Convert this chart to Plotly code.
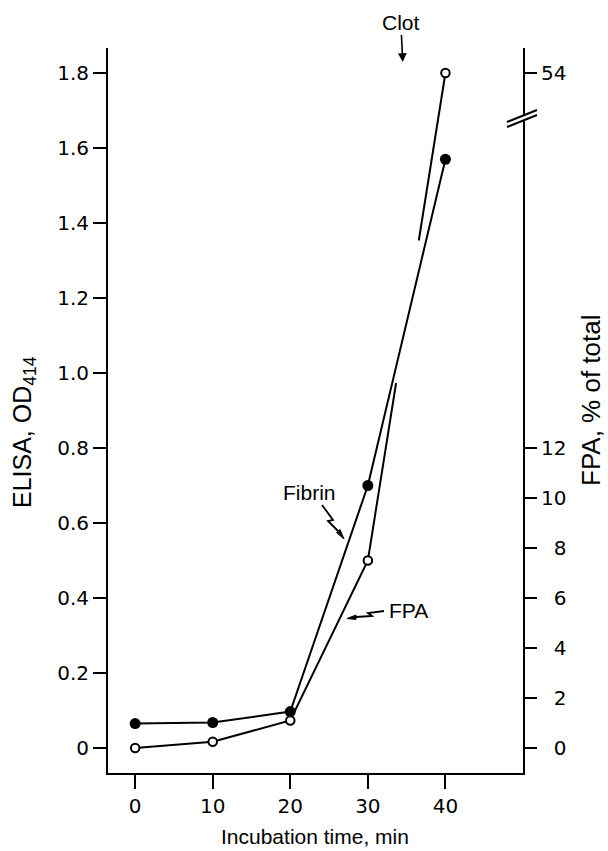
import numpy as np
import plotly.graph_objects as go

# ---------------- data ----------------
time_min = [0, 10, 20, 30, 40]
fibrin_od = [0.065, 0.068, 0.097, 0.70, 1.57]
fpa_pct = [0.0, 0.25, 1.1, 7.5, 54.0]

time_ticks = [0, 10, 20, 30, 40]
od_ticks = [0, 0.2, 0.4, 0.6, 0.8, 1.0, 1.2, 1.4, 1.6, 1.8]
od_tick_labels = ["0", "0.2", "0.4", "0.6", "0.8", "1.0", "1.2", "1.4", "1.6", "1.8"]
fpa_ticks = [0, 2, 4, 6, 8, 10, 12, 54]
fpa_tick_labels = ["0", "2", "4", "6", "8", "10", "12", "54"]
clot_time = 34.5

# broken right axis: values above the break are drawn shifted down by AXIS_SKIP
BREAK_VALUE = 25
AXIS_SKIP = 27


def fpa_pos(v):
    return v if v <= BREAK_VALUE else v - AXIS_SKIP


fpa_y = [fpa_pos(v) for v in fpa_pct]

# gap in the FPA line (axis positions) marking the break
GAP_LO, GAP_HI = 14.6, 20.3
seg_y = [fpa_y[3], fpa_y[4]]
seg_x = [time_min[3], time_min[4]]
x_lo = float(np.interp(GAP_LO, seg_y, seg_x))
x_hi = float(np.interp(GAP_HI, seg_y, seg_x))
fpa_line_x = time_min[:4] + [x_lo, None, x_hi, time_min[4]]
fpa_line_y = fpa_y[:4] + [GAP_LO, None, GAP_HI, fpa_y[4]]

# ---------------- layout helpers ----------------
W, H = 608, 851
L, R, T, B = 108, 523, 48, 773


def PX(x):
    return (x - L) / (R - L)


def PY(y):
    return (B - y) / (B - T)


def path(points, close=False):
    s = "M " + " L ".join(f"{PX(x):.5f},{PY(y):.5f}" for x, y in points)
    return s + (" Z" if close else "")


TXT = "Liberation Sans, Arial, sans-serif"
NUM = "DejaVu Sans, sans-serif"
FS = "\u2007"

fig = go.Figure()

fig.add_trace(go.Scatter(
    x=fpa_line_x, y=fpa_line_y, yaxis="y2", mode="lines",
    line=dict(color="black", width=2), connectgaps=False, hoverinfo="skip"))
fig.add_trace(go.Scatter(
    x=time_min, y=fibrin_od, mode="lines+markers", name="Fibrin",
    line=dict(color="black", width=2),
    marker=dict(symbol="circle", size=11, color="black")))
fig.add_trace(go.Scatter(
    x=time_min, y=fpa_y, yaxis="y2", mode="markers", name="FPA",
    marker=dict(symbol="circle", size=8.5, color="white",
                line=dict(color="black", width=2))))

shapes = []
# axis break marks on right axis
yb = 120
shapes.append(dict(type="path", xref="paper", yref="paper",
                   path=path([(507, yb + 7), (537, yb - 5), (537, yb - 10), (507, yb + 2)], True),
                   fillcolor="white", line=dict(width=0), layer="above"))
for off in (7, 2):
    shapes.append(dict(type="path", xref="paper", yref="paper",
                       path=path([(507, yb + off), (537, yb + off - 12)]),
                       line=dict(color="black", width=2), layer="above"))
# lightning arrow for Fibrin
shapes.append(dict(type="path", xref="paper", yref="paper",
                   path=path([(322, 505), (333, 520), (328, 521), (338, 531)]),
                   line=dict(color="black", width=1.8)))
shapes.append(dict(type="path", xref="paper", yref="paper",
                   path=path([(340, 529.5), (336.5, 532.5), (344, 539)], True),
                   fillcolor="black", line=dict(color="black", width=1)))
# lightning arrow for FPA
shapes.append(dict(type="path", xref="paper", yref="paper",
                   path=path([(384, 611), (368, 613), (372, 616), (356, 617)]),
                   line=dict(color="black", width=1.8)))
shapes.append(dict(type="path", xref="paper", yref="paper",
                   path=path([(356, 615), (356, 619.5), (347, 618.5)], True),
                   fillcolor="black", line=dict(color="black", width=1)))

C = dict(xanchor="center", yanchor="middle")
annotations = [
    dict(text="Clot", x=clot_time, xref="x", y=PY(62), yref="paper",
         ax=-2, ay=-40, showarrow=True, arrowhead=2, arrowsize=1.1,
         arrowwidth=1.6, arrowcolor="black", standoff=0,
         font=dict(family=TXT, size=21, color="black"), **C),
    dict(text="Fibrin", x=PX(309), y=PY(492), xref="paper", yref="paper",
         showarrow=False, font=dict(family=TXT, size=21, color="black"), **C),
    dict(text="FPA", x=PX(408), y=PY(610), xref="paper", yref="paper",
         showarrow=False, font=dict(family=TXT, size=21, color="black"), **C),
    dict(text="ELISA, OD<sub>414</sub>", x=PX(24), y=PY(432),
         xref="paper", yref="paper", textangle=-90, showarrow=False,
         font=dict(family=TXT, size=25, color="black"), **C),
    dict(text="FPA, % of total", x=PX(591), y=PY(401),
         xref="paper", yref="paper", textangle=-90, showarrow=False,
         font=dict(family=TXT, size=26, color="black"), **C),
    dict(text="Incubation time, min", x=PX(315), y=PY(837),
         xref="paper", yref="paper", showarrow=False,
         font=dict(family=TXT, size=21, color="black"), **C),
]

fig.update_layout(
    width=W, height=H,
    margin=dict(l=L, r=W - R, t=T, b=H - B, pad=0),
    plot_bgcolor="white", paper_bgcolor="white",
    showlegend=False,
    shapes=shapes, annotations=annotations,
    xaxis=dict(range=[-3.5, 50], tickvals=time_ticks, ticks="outside",
               ticklen=14, tickwidth=2, tickcolor="black",
               showline=True, linewidth=2, linecolor="black",
               showgrid=False, zeroline=False,
               tickfont=dict(family=NUM, size=20, color="black")),
    yaxis=dict(range=[-0.0667, 1.8667], tickvals=od_ticks, ticktext=od_tick_labels,
               ticks="outside", ticklen=13, tickwidth=2, tickcolor="black",
               showline=True, linewidth=2, linecolor="black",
               showgrid=False, zeroline=False,
               tickfont=dict(family=NUM, size=20, color="black")),
    yaxis2=dict(range=[-1, 28], overlaying="y", side="right",
                tickvals=[fpa_pos(v) for v in fpa_ticks],
                ticktext=[(FS + t) if len(t) == 1 else t for t in fpa_tick_labels],
                ticks="outside", ticklen=12, tickwidth=2, tickcolor="black",
                showline=True, linewidth=2, linecolor="black",
                showgrid=False, zeroline=False,
                tickfont=dict(family=NUM, size=20, color="black")),
)

fig.write_html("out.html")
